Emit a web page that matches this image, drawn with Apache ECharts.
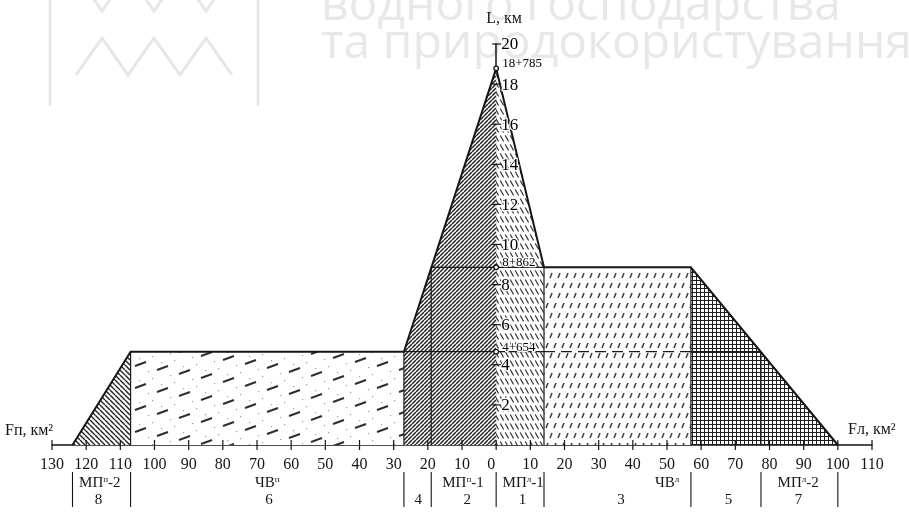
<!DOCTYPE html>
<html><head><meta charset="utf-8">
<script src="https://cdn.jsdelivr.net/npm/echarts@6.0.0/dist/echarts.min.js"></script>
<style>html,body{margin:0;padding:0;background:#fff}#c{width:909px;height:512px}</style>
</head><body><div id="c"></div>
<script>
// ---------- data ----------
const xTicks = [-130,-120,-110,-100,-90,-80,-70,-60,-50,-40,-30,-20,-10,0,10,20,30,40,50,60,70,80,90,100,110];
const yTicks = [2,4,6,8,10,12,14,16,18,20];
const levelValues = [18.785, 8.862, 4.654];
const levelLabels = ['18+785', '8+862', '4+654'];
// zone polygons (F, km²: left bank negative; L, km)
const zoneF = [
  [-124,-107,-107],
  [-107,-107,-27,-27],
  [-27,-27,-19,-19],
  [-19,-19,0,0],
  [0,0,14,14],
  [14,14,57,57],
  [57,57,77.5,77.5],
  [77.5,77.5,100]
];
const zoneL = [
  [0,4.654,0],
  [0,4.654,4.654,0],
  [0,4.654,8.862,0],
  [0,8.862,18.785,0],
  [0,18.785,8.862,0],
  [0,8.862,8.862,0],
  [0,8.862,4.654,0],
  [0,4.654,0]
];
const zonePattern = ['back45','dashDots','fwd45','fwd45','backDash','shortDash','grid','grid'];
const zoneNumbers = ['8','6','4','2','1','3','5','7'];
const zoneNumberF = [-116.4,-66.5,-22.8,-8.5,7.7,36.5,68,88.5];
const zoneNames = ['МП{s|п}-2','ЧВ{s|п}','','МП{s|п}-1','МП{s|л}-1','ЧВ{s|л}','','МП{s|л}-2'];
const zoneNameF = [-116,-67,-23,-9.7,7.9,50,68,88.4];
const outlineF = [-124,-107,-27,0,14,57,100];
const outlineL = [0,4.654,4.654,18.785,8.862,8.862,0];
const separatorF = [-124,-107,-27,-19,0,14,57,77.5,100];
// inner division lines: F1, L1, F2, L2, dashed
const innerLines = [
  [-107,0,-107,4.654,0],[-27,0,-27,4.654,0],[-19,0,-19,8.862,0],[14,0,14,8.862,0],
  [57,0,57,8.862,0],[77.5,0,77.5,4.654,0],
  [-27,4.654,14,4.654,0],[14,4.654,57,4.654,1],[57,4.654,77.5,4.654,0],
  [-19,8.862,14,8.862,0]
];

// ---------- patterns ----------
function tile(w, h, fn) {
  const c = document.createElement('canvas');
  c.width = w; c.height = h;
  const g = c.getContext('2d');
  g.fillStyle = '#fff'; g.fillRect(0, 0, w, h);
  g.strokeStyle = '#2a2a2a'; g.fillStyle = '#2a2a2a';
  fn(g, w, h);
  return { image: c, repeat: 'repeat' };
}
const patterns = {
  fwd45: tile(4, 4, (g, w, h) => {
    g.lineWidth = 1.45; g.strokeStyle = '#222'; g.beginPath();
    for (const o of [-w, 0, w]) { g.moveTo(o, h); g.lineTo(o + w, 0); }
    g.stroke();
  }),
  back45: tile(5, 5, (g, w, h) => {
    g.lineWidth = 1.4; g.strokeStyle = '#222'; g.beginPath();
    for (const o of [-w, 0, w]) { g.moveTo(o, 0); g.lineTo(o + w, h); }
    g.stroke();
  }),
  backDash: tile(5, 9, (g, w, h) => {
    g.lineWidth = 1.2; g.strokeStyle = '#333'; g.beginPath();
    for (const o of [-w, 0, w]) { g.moveTo(o + w * 0.05, h * 0.05); g.lineTo(o + w * 0.72, h * 0.72); }
    g.stroke();
  }),
  shortDash: tile(8, 20, (g, w, h) => {
    g.lineWidth = 1.5; g.strokeStyle = '#3a3a3a'; g.beginPath();
    const d = [[2, 8], [6, 18]];
    for (const [x, y] of d) for (const ox of [-w, 0, w]) for (const oy of [-h, 0, h]) {
      g.moveTo(x + ox, y + oy); g.lineTo(x + ox + 2, y + oy - 5);
    }
    g.stroke();
  }),
  grid: tile(4, 4, (g, w, h) => {
    g.lineWidth = 1; g.strokeStyle = '#1e1e1e'; g.beginPath();
    g.moveTo(0.5, 0); g.lineTo(0.5, h); g.moveTo(0, 0.5); g.lineTo(w, 0.5);
    g.stroke();
  }),
  dashDots: tile(242, 22, (g, w, h) => {
    g.lineWidth = 2; g.strokeStyle = '#2e2e2e'; g.beginPath();
    for (let i = 0; i < 11; i++) {
      const x = 22 * i + 3, y = (4 * i) % 22 + 12;
      for (const oy of [-h, 0, h]) { g.moveTo(x, y + oy); g.lineTo(x + 11, y + oy - 4); }
    }
    g.stroke();
    g.fillStyle = '#9a9a9a';
    for (let i = 0; i < 11; i++) {
      const x = 22 * i + 3, y = (4 * i) % 22 + 12;
      for (const [dx, dy] of [[13, 5], [4, -8], [17, -10]]) {
        const yy = ((y + dy) % h + h) % h;
        g.fillRect(x + dx, yy, 1.2, 1.2);
      }
    }
  })
};

// ---------- chart ----------
const SERIF = '"Liberation Serif", "DejaVu Serif", serif';
const INK = '#151515';
const chart = echarts.init(document.getElementById('c'), null, { renderer: 'canvas' });

const option = {
  animation: false,
  backgroundColor: '#fff',
  grid: { left: 52, right: 37, top: 44, bottom: 67 },
  xAxis: {
    type: 'value', min: -130, max: 110, interval: 10,
    axisLine: { onZero: true, lineStyle: { color: INK, width: 1.5 } },
    axisTick: { show: false },
    splitLine: { show: false },
    axisLabel: {
      margin: 12, color: INK, fontFamily: SERIF, fontSize: 16,
      formatter: v => v === 0 ? '{z|0}' : String(Math.abs(v)),
      rich: { z: { padding: [0, 10, 0, 0], color: INK, fontFamily: SERIF, fontSize: 16 } }
    }
  },
  yAxis: {
    type: 'value', min: 0, max: 20, interval: 2,
    axisLine: { show: true, onZero: true, lineStyle: { color: INK, width: 1.5 } },
    axisTick: { show: false },
    splitLine: { show: false },
    axisLabel: { show: false }
  },
  graphic: [
    { type: 'line', shape: { x1: 50, y1: 0, x2: 50, y2: 106 }, style: { stroke: '#e6e6e6', lineWidth: 2.5 }, z: 0 },
    { type: 'line', shape: { x1: 258, y1: 0, x2: 258, y2: 106 }, style: { stroke: '#e6e6e6', lineWidth: 2.5 }, z: 0 },
    { type: 'polyline', shape: { points: [[76,-26],[102,11],[128,-26],[154,11],[180,-26],[206,11],[232,-26]] }, style: { stroke: '#e6e6e6', lineWidth: 3, fill: null }, z: 0 },
    { type: 'polyline', shape: { points: [[76,75],[102,38],[128,75],[154,38],[180,75],[206,38],[232,75]] }, style: { stroke: '#e6e6e6', lineWidth: 3, fill: null }, z: 0 },
    { type: 'text', x: 321, y: 6, style: { text: 'водного господарства', font: '48px "Open Sans"', fill: '#e8e8e8', verticalAlign: 'middle' }, z: 0 },
    { type: 'text', x: 321, y: 44, style: { text: 'та природокористування', font: '48px "Open Sans"', fill: '#e8e8e8', verticalAlign: 'middle' }, z: 0 },
    { type: 'text', x: 504, y: 19, style: { text: 'L, км', font: '16px ' + SERIF, fill: INK, align: 'center', verticalAlign: 'middle' }, z: 5 },
    { type: 'text', x: 5, y: 431, style: { text: 'Fп, км²', font: '16px ' + SERIF, fill: INK, align: 'left', verticalAlign: 'middle' }, z: 5 },
    { type: 'text', x: 848, y: 430, style: { text: 'Fл, км²', font: '16px ' + SERIF, fill: INK, align: 'left', verticalAlign: 'middle' }, z: 5 }
  ],
  series: [
    { // hatched zones
      type: 'custom', z: 1, silent: true,
      data: zoneF.map((f, i) => [zoneNumberF[i], 0]),
      renderItem: (params, api) => {
        const i = params.dataIndex;
        const pts = zoneF[i].map((f, k) => api.coord([f, zoneL[i][k]]));
        return { type: 'polygon', shape: { points: pts }, style: { fill: patterns[zonePattern[i]], stroke: null } };
      }
    },
    { // inner division lines
      type: 'custom', z: 3, silent: true,
      data: innerLines.map(s => [s[0], s[1]]),
      renderItem: (params, api) => {
        const s = innerLines[params.dataIndex];
        const a = api.coord([s[0], s[1]]), b = api.coord([s[2], s[3]]);
        return { type: 'line', shape: { x1: a[0], y1: a[1], x2: b[0], y2: b[1] },
          style: { stroke: '#1a1a1a', lineWidth: 1.2, lineDash: s[4] ? [11, 6] : null } };
      }
    },
    { // outline
      type: 'line', z: 4, silent: true, symbol: 'none',
      data: outlineF.map((f, i) => [f, outlineL[i]]),
      lineStyle: { color: INK, width: 2 }
    },
    { // x ticks (both sides of axis)
      type: 'custom', z: 5, silent: true,
      data: xTicks.map(v => [v, 0]),
      renderItem: (params, api) => {
        const p = api.coord([api.value(0), 0]);
        return { type: 'line', shape: { x1: p[0], y1: p[1] - 5, x2: p[0], y2: p[1] + 5 }, style: { stroke: INK, lineWidth: 1.2 } };
      }
    },
    { // y ticks and labels on the L axis (at F = 0)
      type: 'custom', z: 6, silent: true,
      data: yTicks.map(v => [0, v]),
      renderItem: (params, api) => {
        const v = api.value(1);
        const p = api.coord([0, v]);
        return { type: 'group', children: [
          { type: 'line', shape: { x1: p[0] - 4, y1: p[1], x2: p[0] + 5, y2: p[1] }, style: { stroke: INK, lineWidth: 1.2 } },
          { type: 'text', x: p[0] + 5, y: p[1] + 1, style: { text: String(yTicks[params.dataIndex]), font: '17px ' + SERIF, fill: '#000', stroke: '#fff', lineWidth: 2.5, strokeFirst: true, align: 'left', verticalAlign: 'middle' } }
        ] };
      }
    },
    { // level markers
      type: 'custom', z: 7, silent: true,
      data: levelValues.map(v => [0, v]),
      renderItem: (params, api) => {
        const p = api.coord([0, api.value(1)]);
        return { type: 'group', children: [
          { type: 'circle', shape: { cx: p[0], cy: p[1], r: 2.3 }, style: { fill: '#fff', stroke: INK, lineWidth: 1.3 } },
          { type: 'text', x: p[0] + 6, y: p[1] + 2, style: { text: levelLabels[params.dataIndex], font: '13px ' + SERIF, fill: '#000', stroke: '#fff', lineWidth: 2.5, strokeFirst: true, align: 'left', verticalAlign: 'bottom' } }
        ] };
      }
    },
    { // bottom separators
      type: 'custom', z: 5, silent: true,
      data: separatorF.map(f => [f, 0]),
      renderItem: (params, api) => {
        const p = api.coord([api.value(0), 0]);
        return { type: 'line', shape: { x1: p[0], y1: p[1] + 27, x2: p[0], y2: p[1] + 62 }, style: { stroke: INK, lineWidth: 1.1 } };
      }
    },
    { // zone names and numbers
      type: 'custom', z: 5, silent: true,
      data: zoneNumbers.map((n, i) => [zoneNumberF[i], 0]),
      renderItem: (params, api) => {
        const i = params.dataIndex;
        const pn = api.coord([zoneNumberF[i], 0]);
        const pm = api.coord([zoneNameF[i], 0]);
        const rich = { s: { fontSize: 9, fontFamily: SERIF, verticalAlign: 'top', lineHeight: 16, padding: [0, 0, 6, 0] } };
        return { type: 'group', children: [
          { type: 'text', x: pm[0], y: pm[1] + 38, style: { text: zoneNames[i], rich, font: '15px ' + SERIF, fill: INK, align: 'center', verticalAlign: 'middle' } },
          { type: 'text', x: pn[0], y: pn[1] + 55, style: { text: zoneNumbers[i], font: '15px ' + SERIF, fill: INK, align: 'center', verticalAlign: 'middle' } }
        ] };
      }
    }
  ]
};
chart.setOption(option);
</script>
</body></html>
